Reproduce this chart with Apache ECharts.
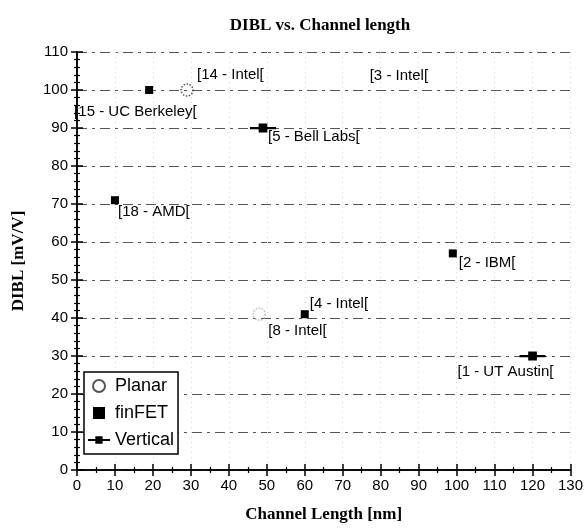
<!DOCTYPE html>
<html>
<head>
<meta charset="utf-8">
<script src="https://cdn.jsdelivr.net/npm/echarts@6/dist/echarts.min.js"></script>
<style>html,body{margin:0;padding:0;background:#fff;}#c{width:586px;height:529px;}</style>
</head>
<body>
<div id="c"></div>
<script>
// Data
const xTicks = [0,10,20,30,40,50,60,70,80,90,100,110,120,130];
const yTicks = [0,10,20,30,40,50,60,70,80,90,100,110];
const planarX = [29, 48, 75];
const planarY = [100, 41, 100];
const planarLabels = ['[14 - Intel[', '[8 - Intel[', '[3 - Intel['];
const finfetX = [19, 10, 60, 99];
const finfetY = [100, 71, 41, 57];
const finfetLabels = ['[15 - UC Berkeley[', '[18 - AMD[', '[4 - Intel[', '[2 - IBM['];
const verticalX = [49, 120];
const verticalY = [90, 30];
const verticalLabels = ['[5 - Bell Labs[', '[1 - UT Austin['];

// label placement (style only)
const planarOffsets = [[10,-15],[9,17],[8,-14]];
const finfetOffsets = [[-75,22],[3,12],[5,-10],[6,9]];
const verticalOffsets = [[5,9],[-75,16]];

const labelFont = {fontFamily:'Liberation Sans, Arial', fontSize:15, color:'#000', textBorderWidth:0, textShadowBlur:0};

function build(xs, ys, labels, offs, extra) {
  return xs.map((x,i)=>{
    const d = {value:[x, ys[i]], label:{show:true, formatter:labels[i], position:'inside', align:'left', verticalAlign:'middle', offset:offs[i], ...labelFont}};
    if (extra && extra[i]) Object.assign(d, extra[i]);
    return d;
  });
}

const chart = echarts.init(document.getElementById('c'));
const axisLine = {show:true, lineStyle:{color:'#000', width:1.5}};
const tickStyle = {show:true, inside:true, length:6, lineStyle:{color:'#000', width:1.5}};
const verticalSymbol = 'path://M0,8 L8,8 L8,5 L16,5 L16,8 L24,8 L24,10 L16,10 L16,13 L8,13 L8,10 L0,10 Z';
const squareSymbol = 'path://M0,0 L10,0 L10,10 L0,10 Z';

chart.setOption({
  animation:false,
  backgroundColor:'#fff',
  title:{text:'DIBL vs. Channel length', left:315, top:12, textAlign:'center',
    textStyle:{fontFamily:'Liberation Serif, Times New Roman', fontWeight:'bold', fontSize:17, color:'#000'}},
  grid:{left:77, right:13, top:52, bottom:59},
  legend:{
    orient:'vertical', left:84, top:372, itemGap:9, itemWidth:22, itemHeight:12,
    padding:[5,4,5,4], borderColor:'#000', borderWidth:1.5, backgroundColor:'#fff',
    textStyle:{fontFamily:'Liberation Sans, Arial', fontSize:18, color:'#000'},
    data:['Planar','finFET','Vertical']
  },
  xAxis:[{
    type:'value', min:0, max:130, interval:10,
    name:'Channel Length [nm]', nameLocation:'middle', nameGap:36,
    nameTextStyle:{fontFamily:'Liberation Serif, Times New Roman', fontWeight:'bold', fontSize:17, color:'#000'},
    axisLine:axisLine, axisTick:tickStyle,
    minorTick:{show:true, splitNumber:2, length:3, lineStyle:{color:'#000', width:1.2}},
    axisLabel:{fontFamily:'Liberation Sans, Arial', fontSize:15, color:'#000', margin:8,
      formatter:(v)=> xTicks.includes(v) ? String(v) : ''},
    splitLine:{show:true, lineStyle:{color:'#d4d4d4', type:[1,4], width:1}}
  },{
    type:'value', min:0, max:130, interval:10, position:'top',
    axisLine:axisLine, axisTick:tickStyle,
    minorTick:{show:true, splitNumber:2, length:3, lineStyle:{color:'#000', width:1.2}},
    axisLabel:{show:false}, splitLine:{show:false}
  }],
  yAxis:[{
    type:'value', min:0, max:110, interval:10,
    name:'DIBL [mV/V]', nameLocation:'middle', nameGap:50, nameRotate:90,
    nameTextStyle:{fontFamily:'Liberation Serif, Times New Roman', fontWeight:'bold', fontSize:17, color:'#000'},
    axisLine:axisLine, axisTick:tickStyle,
    minorTick:{show:true, splitNumber:5, length:3, lineStyle:{color:'#000', width:1.2}},
    axisLabel:{fontFamily:'Liberation Sans, Arial', fontSize:15, color:'#000', margin:9,
      formatter:(v)=> yTicks.includes(v) ? String(v) : ''},
    splitLine:{show:true, lineStyle:{color:'#555', type:[10,5,3,5], width:1.2}}
  },{
    type:'value', min:0, max:110, interval:10, position:'right',
    axisLine:axisLine, axisTick:tickStyle,
    minorTick:{show:true, splitNumber:5, length:3, lineStyle:{color:'#000', width:1.2}},
    axisLabel:{show:false}, splitLine:{show:false}
  }],
  series:[
    {name:'Planar', type:'scatter', xAxisIndex:0, yAxisIndex:0, symbol:'circle', symbolSize:12,
      itemStyle:{color:'rgba(255,255,255,0)', borderColor:'#555', borderWidth:1.5, borderType:'dotted', opacity:1},
      data: build(planarX, planarY, planarLabels, planarOffsets,
        [null, {itemStyle:{borderColor:'#bbb'}}, {itemStyle:{borderColor:'rgba(0,0,0,0)', color:'rgba(0,0,0,0)'}}])},
    {name:'finFET', type:'scatter', xAxisIndex:0, yAxisIndex:0, symbol:squareSymbol, symbolSize:8, symbolKeepAspect:true,
      itemStyle:{color:'#000', opacity:1},
      data: build(finfetX, finfetY, finfetLabels, finfetOffsets)},
    {name:'Vertical', type:'scatter', xAxisIndex:0, yAxisIndex:0, symbol:verticalSymbol, symbolSize:[26,9],
      itemStyle:{color:'#000', opacity:1},
      data: build(verticalX, verticalY, verticalLabels, verticalOffsets)}
  ]
});
</script>
</body>
</html>
